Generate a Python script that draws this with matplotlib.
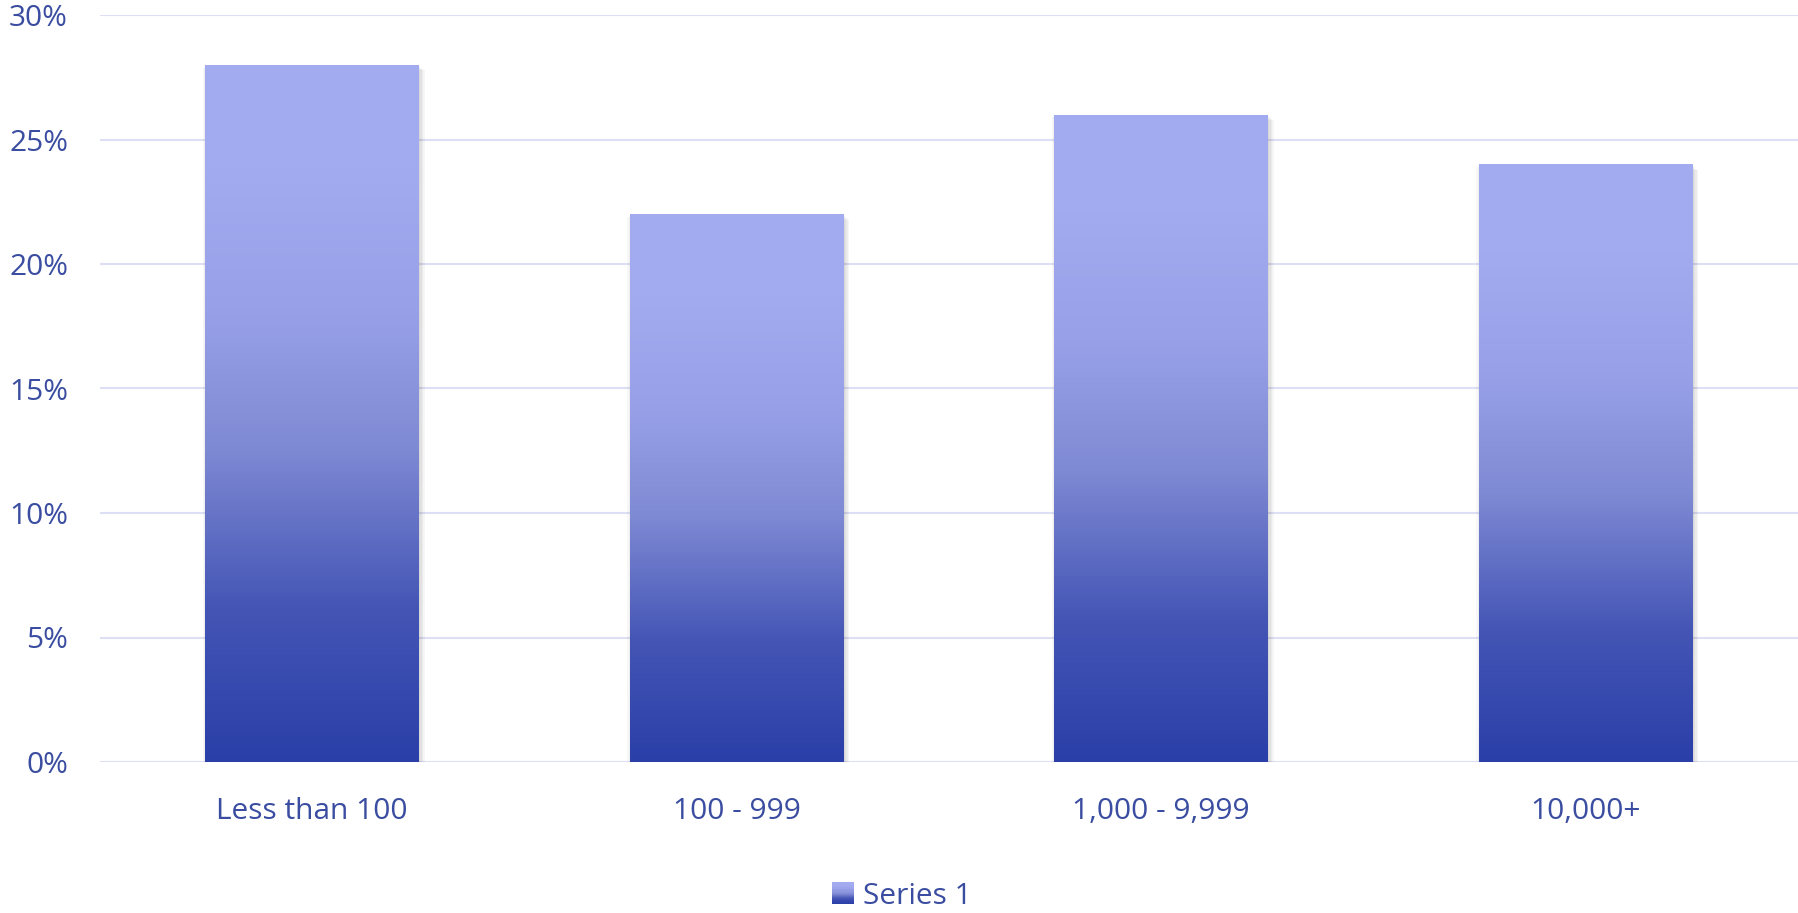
import numpy as np
import matplotlib
matplotlib.use("Agg")
import matplotlib.pyplot as plt
import matplotlib.patheffects as pe
from matplotlib.colors import LinearSegmentedColormap
from matplotlib.legend_handler import HandlerBase
from matplotlib.patches import Rectangle, Patch
from matplotlib.ticker import PercentFormatter

categories = ["Less than 100", "100 - 999", "1,000 - 9,999", "10,000+"]
values = [28, 22, 26, 24]
series_name = "Series 1"
yticks = [0, 5, 10, 15, 20, 25, 30]

text_color = "#3A4DA0"
grid_color = "#DDE0F4"
# light at the top, deep blue at the base
grad = LinearSegmentedColormap.from_list(
    "bar_grad",
    [(0.0, "#2A3FA8"), (0.22, "#4455B5"), (0.45, "#7F8AD4"),
     (0.65, "#98A1E8"), (0.85, "#A2ABEF"), (1.0, "#A3ACF0")])

plt.rcParams["font.family"] = ["Open Sans", "DejaVu Sans"]

fig = plt.figure(figsize=(17.99, 9.13), dpi=100)
ax = fig.add_axes([100 / 1799, 151 / 913, 1698 / 1799, 747 / 913])

x = np.arange(len(categories))
width = 0.503
shadow = [pe.SimplePatchShadow(offset=(o, -o), shadow_rgbFace="black", alpha=0.04)
          for o in (1, 2, 3, 4)]
shadow += [pe.SimplePatchShadow(offset=(-o, -o), shadow_rgbFace="black", alpha=0.03)
           for o in (1, 2)]
bars = ax.bar(x, values, width, color="white", zorder=2,
              path_effects=shadow + [pe.Normal()])

ramp = np.linspace(0, 1, 256).reshape(-1, 1)
for b in bars:
    im = ax.imshow(ramp, cmap=grad, aspect="auto", origin="lower",
                   extent=[b.get_x(), b.get_x() + b.get_width(), 0, b.get_height()],
                   zorder=3)
    im.set_clip_path(b)

ax.set_xlim(-0.5, len(categories) - 0.5)
ax.set_ylim(0, 30)
ax.set_yticks(yticks)
ax.yaxis.set_major_formatter(PercentFormatter(decimals=0))
ax.set_xticks(x)
ax.set_xticklabels(categories)
ax.tick_params(axis="both", length=0, labelsize=21.5, colors=text_color)
ax.tick_params(axis="y", pad=23)
ax.tick_params(axis="x", pad=25.5)
ax.grid(axis="y", color=grid_color, linewidth=1.5, zorder=0)
ax.set_axisbelow(True)
for s in ax.spines.values():
    s.set_visible(False)


class GradientHandler(HandlerBase):
    def create_artists(self, legend, orig_handle, xdescent, ydescent,
                       width, height, fontsize, trans):
        n = 20
        side = height * 1.05
        x0 = xdescent + width - side
        y0 = -ydescent - (side - height) / 2
        out = []
        for i in range(n):
            c = grad(1 - i / (n - 1))
            out.append(Rectangle((x0, y0 + side * (1 - (i + 1) / n)), side, side / n + 0.3,
                                 facecolor=c, edgecolor="none", transform=trans))
        return out


leg = fig.legend([Patch()], [series_name], loc="center", bbox_to_anchor=(0.5, 17 / 913),
                 frameon=False, fontsize=21.5, handler_map={Patch: GradientHandler()},
                 handlelength=0.9, handletextpad=0.3)
for t in leg.get_texts():
    t.set_color(text_color)

fig.savefig("out.png", dpi=100)
